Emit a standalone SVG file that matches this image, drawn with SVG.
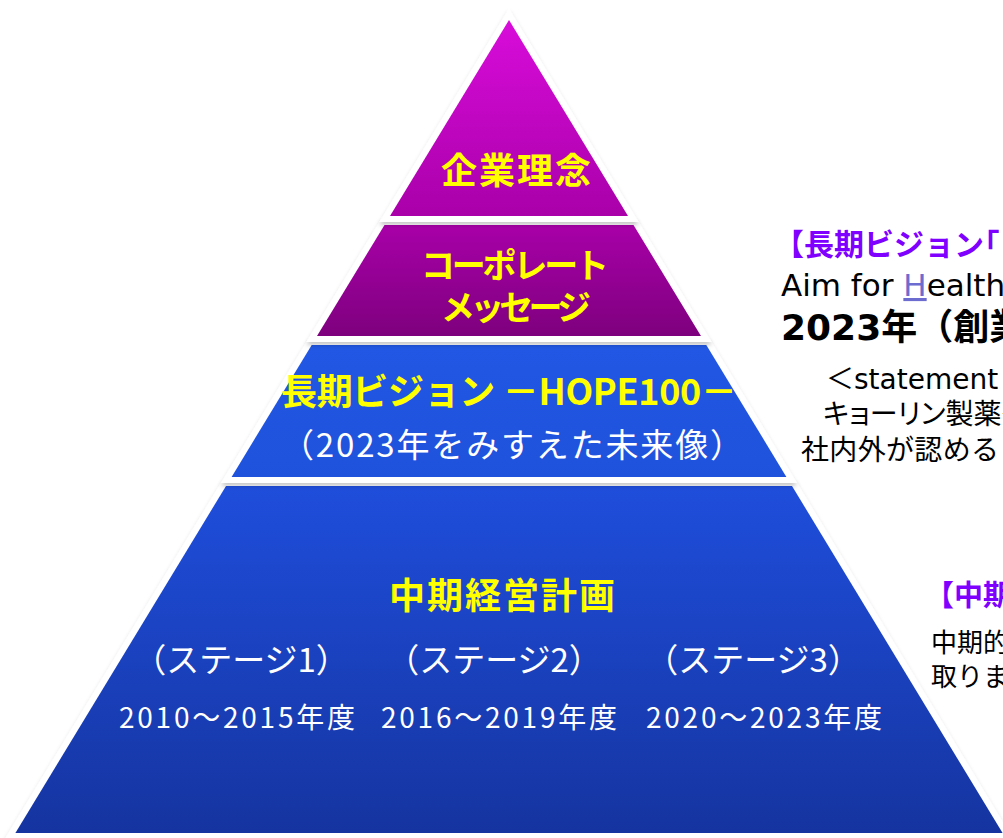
<svg xmlns="http://www.w3.org/2000/svg" width="1003" height="838" viewBox="0 0 1003 838">
<defs>
  <linearGradient id="gTop" x1="0" y1="0" x2="0" y2="1">
    <stop offset="0" stop-color="#d80cda"/>
    <stop offset="1" stop-color="#a900a9"/>
  </linearGradient>
  <linearGradient id="gMsg" x1="0" y1="0" x2="0" y2="1">
    <stop offset="0" stop-color="#a800a8"/>
    <stop offset="1" stop-color="#7e007e"/>
  </linearGradient>
  <linearGradient id="gVision" x1="0" y1="0" x2="0" y2="1">
    <stop offset="0" stop-color="#2157e4"/>
    <stop offset="1" stop-color="#1f52dc"/>
  </linearGradient>
  <linearGradient id="gPlan" x1="0" y1="0" x2="0" y2="1">
    <stop offset="0" stop-color="#1f4edc"/>
    <stop offset="1" stop-color="#1534a0"/>
  </linearGradient>
  <filter id="shadow" x="-10%" y="-10%" width="120%" height="130%">
    <feDropShadow dx="0" dy="3" stdDeviation="2" flood-color="#000" flood-opacity="0.22"/>
  </filter>
  <style>
    .frame { fill: #fff; stroke: #fff; stroke-width: 12; stroke-linejoin: miter; stroke-miterlimit: 4; filter: url(#shadow); }
    .jp { font-family: "Noto Sans CJK JP", "Noto Sans CJK SC", sans-serif; }
    .lat { font-family: "DejaVu Sans", "Noto Sans CJK JP", sans-serif; }
    .palt { font-feature-settings: "palt"; }
    .yb { fill: #ffff00; font-weight: bold; }
    .wt { fill: #ffffff; }
    .ph { fill: #7f00ff; font-weight: bold; }
    .bk { fill: #000; }
  </style>
</defs>
<rect x="0" y="0" width="1003" height="838" fill="#ffffff"/>

<g id="layer-plan">
  <polygon class="frame" points="226,486 792,486 1002.6,833 15.4,833"/>
  <polygon fill="url(#gPlan)" points="226,486 792,486 1002.6,833 15.4,833"/>
  <text class="jp yb" x="502" y="609" font-size="36" text-anchor="middle" textLength="226">中期経営計画</text>
  <text class="jp wt" x="241" y="672" font-size="33" text-anchor="middle">（ステージ1）</text>
  <text class="jp wt" x="494" y="672" font-size="33" text-anchor="middle">（ステージ2）</text>
  <text class="jp wt" x="753" y="672" font-size="33" text-anchor="middle">（ステージ3）</text>
  <text class="jp wt" x="237" y="728" font-size="28" text-anchor="middle" textLength="236">2010～2015年度</text>
  <text class="jp wt" x="499" y="728" font-size="28" text-anchor="middle" textLength="236">2016～2019年度</text>
  <text class="jp wt" x="764" y="728" font-size="28" text-anchor="middle" textLength="236">2020～2023年度</text>
</g>

<g id="layer-vision">
  <polygon class="frame" points="311.7,345 706.3,345 786.4,477 231.6,477"/>
  <polygon fill="url(#gVision)" points="311.7,345 706.3,345 786.4,477 231.6,477"/>
  <text class="jp yb" x="281" y="405" font-size="36" textLength="456">長期ビジョン －HOPE100－</text>
  <text class="jp wt" x="512" y="457" font-size="33" text-anchor="middle" textLength="462">（2023年をみすえた未来像）</text>
</g>

<g id="layer-message">
  <polygon class="frame" points="384.5,225 633.5,225 701,336 317,336"/>
  <polygon fill="url(#gMsg)" points="384.5,225 633.5,225 701,336 317,336"/>
  <text class="jp yb" x="515" y="278" font-size="34" text-anchor="middle" textLength="188">コーポレート</text>
  <text class="jp yb" x="516" y="320" font-size="34" text-anchor="middle" textLength="150">メッセージ</text>
</g>

<g id="layer-philosophy">
  <polygon class="frame" points="509,20 628,216 390,216"/>
  <polygon fill="url(#gTop)" points="509,20 628,216 390,216"/>
  <text class="jp yb" x="516" y="184" font-size="36" text-anchor="middle" textLength="150">企業理念</text>
</g>

<g id="note-vision">
  <text class="jp ph" x="774" y="255" font-size="30">【長期ビジョン<tspan class="palt">「</tspan></text>
  <text class="lat bk" x="781" y="296" font-size="31">Aim for <tspan fill="#6b6bd0" style="text-decoration:underline">H</tspan>ealth</text>
  <text class="lat bk" x="781" y="340" font-size="36" font-weight="bold">2023年（創業</text>
  <text class="lat bk" x="826" y="389" font-size="28">＜statement</text>
  <text class="jp bk palt" x="823" y="424" font-size="28">キョーリン製薬グ</text>
  <text class="jp bk" x="801" y="460" font-size="28" textLength="198">社内外が認める</text>
</g>

<g id="note-plan">
  <text class="jp ph" x="925" y="606" font-size="29">【中期</text>
  <text class="jp bk" x="931" y="652" font-size="26">中期的</text>
  <text class="jp bk" x="931" y="686" font-size="26">取りま</text>
</g>

<g id="connectors"></g>
</svg>
